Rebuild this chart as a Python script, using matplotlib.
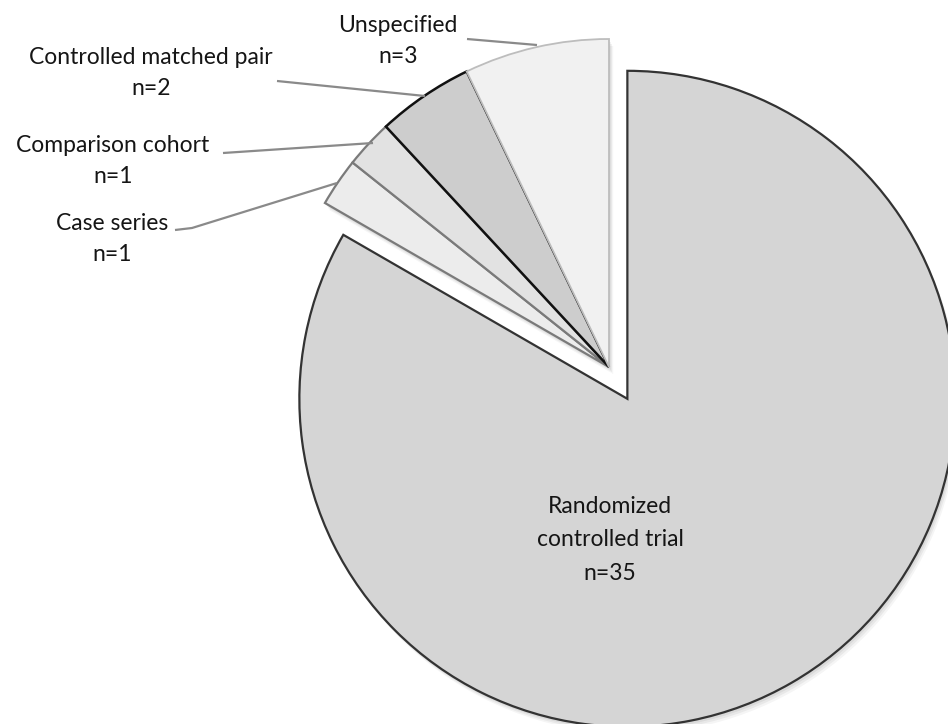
import matplotlib
matplotlib.use('Agg')
import matplotlib.pyplot as plt

# study designs, ccw from 12 o'clock
designs = ['Unspecified', 'Controlled matched pair', 'Comparison cohort',
           'Case series', 'Randomized\ncontrolled trial']
counts = [3, 2, 1, 1, 35]
labels = [f'{d}\nn={c}' for d, c in zip(designs, counts)]

fills = ['#f1f1f1', '#cdcdcd', '#e2e2e2', '#ececec', '#d5d5d5']
edges = ['#bdbdbd', '#111111', '#7a7a7a', '#7a7a7a', '#333333']
zord = [5, 4, 3, 2, 1]

W, H = 948, 724
fig = plt.figure(figsize=(W / 100, H / 100), dpi=100)
ax = fig.add_axes([0, 0, 1, 1])
ax.set_xlim(0, W)
ax.set_ylim(0, H)
ax.set_aspect('equal')
ax.axis('off')

cx, cy, r = 609, H - 367, 328
# only the big slice is pulled out (explode is in data units here)
explode = [0, 0, 0, 0, 0.112 * r]

# soft drop shadow
for k, a in [(7, 0.04), (5, 0.05), (3, 0.06)]:
    sh, _ = ax.pie(counts, explode=explode, startangle=90, counterclock=True,
                   radius=r, center=(cx + k * 0.6, cy - k),
                   wedgeprops=dict(linewidth=0, facecolor='black', alpha=a))
    for w in sh:
        w.set_zorder(0)

wedges, _ = ax.pie(counts, explode=explode, startangle=90, counterclock=True,
                   radius=r, center=(cx, cy),
                   wedgeprops=dict(linewidth=1.6))
for w, f, e, z in zip(wedges, fills, edges, zord):
    w.set_facecolor(f)
    w.set_edgecolor(e)
    w.set_zorder(z)
wedges[0].set_linewidth(1.3)
wedges[1].set_linewidth(1.8)

ax.set_xlim(0, W)
ax.set_ylim(0, H)

font = dict(family=['Lato', 'DejaVu Sans'], fontsize=16.5, color='#151515',
            ha='center', va='center', linespacing=1.55)

# outside labels (image pixel coords, y from top)
label_pos = [(398, 41), (151, 73), (113, 161), (112, 239)]
for (x, y), lab in zip(label_pos, labels[:4]):
    ax.text(x, H - y, lab, **font)
ax.text(610, H - 540, labels[4], fontsize=16.5, color='#151515',
        family=['Lato', 'DejaVu Sans'], ha='center', va='center',
        linespacing=1.75)

# leader lines
leaders = [
    [(467, 39), (537, 45)],
    [(277, 81), (425, 96)],
    [(223, 153), (373, 143)],
    [(175, 230), (192, 228), (337, 183)],
]
for pts in leaders:
    xs = [p[0] for p in pts]
    ys = [H - p[1] for p in pts]
    ax.plot(xs, ys, color='#8a8a8a', lw=1.6, zorder=6, solid_capstyle='butt')

fig.savefig('out.png', dpi=100, facecolor='white')
